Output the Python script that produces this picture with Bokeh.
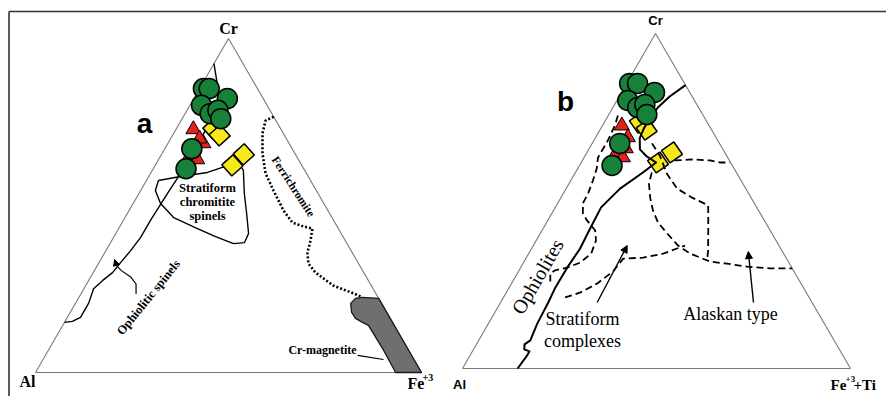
import numpy as np
from bokeh.plotting import figure
from bokeh.models import Range1d, Arrow, NormalHead
from bokeh.core.properties import value
from bokeh.embed import file_html
from bokeh.resources import INLINE

# ---------------- data: ternary %, Cr and Fe given, Al = 100 - Cr - Fe ----------------
# Panel a  (Cr - Al - Fe+3)
a_circle_cr = [85, 85, 82, 80, 77.5, 78.5, 76, 67, 61]
a_circle_fe = [1, 2.5, 8.7, 3, 6.5, 8, 10, 7, 8.5]
a_tri_cr = [72.8, 68.6, 63.8, 63.8, 70]
a_tri_fe = [4.5, 9.2, 7.5, 10, 7.5]
a_sq_cr = [73, 71, 62, 65.3]
a_sq_fe = [9.6, 12.2, 20, 21.3]

a_strat_cr = [57.5, 58.7, 59.9, 61.4, 62.9, 60.5, 53.6, 47.6, 41.6, 38.9, 38.6, 40.7, 43.1, 46.4, 50.6, 54.5, 57.5]
a_strat_fe = [3.1, 8.2, 14.6, 17.7, 21.1, 23.6, 27.3, 30.9, 34.4, 34.7, 32.0, 26.3, 20.4, 12.6, 7.1, 3.8, 3.1]
a_oph_cr = [15.0, 15.3, 16.5, 20.7, 25.1, 27.5, 29.9, 32.9, 36.5, 40.4, 45.5, 53.6, 59.6, 64.4, 69.5, 74.6, 79.3, 84.4, 89.5, 92.5]
a_oph_fe = [0, 1.9, 3.4, 3.4, 2.5, 3.6, 5.0, 5.6, 6.4, 7.0, 7.0, 7.4, 7.8, 8.0, 8.0, 7.5, 7.5, 5.2, 1.9, 0]
a_arrow_cr = [23.5, 26.5, 28.5, 30.5, 32.0, 33.8]
a_arrow_fe = [14.3, 12.8, 10.5, 7.0, 5.0, 3.6]
a_ferri_cr = [76.6, 75.4, 71.6, 65.6, 59.6, 54.5, 48.5, 44.9, 43.7, 43.1, 39.5, 35.9, 32.6, 29.9, 26.0, 23.7, 22.8]
a_ferri_fe = [23.4, 21.9, 23.0, 26.0, 29.8, 34.4, 40.0, 44.1, 47.6, 50.2, 51.5, 52.5, 54.4, 57.6, 64.2, 70.5, 72.8]
a_mag_cr = [20.7, 22.2, 22.5, 22.2, 0, 0, 6.6, 14.1, 15.0, 16.2, 18.0]
a_mag_fe = [71.3, 71.8, 73.5, 77.8, 100, 93.3, 86.9, 79.2, 77.2, 74.8, 72.9]
a_lead_cr = [5.1, 3.9]
a_lead_fe = [80.9, 88.2]

# Panel b  (Cr - Al - Fe+3+Ti)
b_circle_cr = [85.1, 85.1, 82.4, 80, 77.9, 78.8, 75.8, 67.2, 60.6]
b_circle_fe = [0.75, 2.8, 8.5, 2.8, 6.4, 7.8, 9.8, 7.1, 8.4]
b_tri_cr = [72.5, 69, 63.6, 63, 65.7]
b_tri_fe = [5, 8.3, 7.6, 10, 9.4]
b_sq_cr = [73.4, 71.3, 64.5, 61.5]
b_sq_fe = [9.2, 12, 21.9, 19.8]

b_oph_cr = [84.6, 81.2, 77.9, 74.6, 71.6, 68.7, 65.4, 63.3, 61.5, 58.5, 53.7, 48.1, 41.8, 35.8, 30.1, 24.2, 19.7, 13.4, 8.4, 7.2, 5.7, 5.1, 3.6, 0]
b_oph_fe = [15.4, 13.0, 11.6, 11.2, 11.1, 11.5, 13.2, 16.0, 19.3, 17.4, 13.9, 11.8, 12.1, 12.5, 12.0, 11.9, 12.3, 12.6, 13.3, 12.4, 13.1, 14.7, 14.7, 14.2]
b_strat1_cr = [75.5, 72.5, 68.1, 63.0, 59.7, 56.1, 52.2, 49.3, 46.3, 44.2, 41.2, 38.2, 34.3, 31.6, 30.1, 29.3, 28.4, 26.0]
b_strat1_fe = [2.5, 3.2, 3.6, 3.6, 4.9, 5.7, 6.4, 6.5, 8.0, 10.1, 13.7, 15.4, 16.1, 14.6, 12.0, 9.3, 8.5, 9.7]
b_strat2_cr = [21.2, 22.7, 25.4, 29.0, 32.8, 33.1, 34.3, 36.7]
b_strat2_fe = [15.9, 19.1, 22.1, 24.4, 25.1, 30.1, 34.7, 39.1]
b_alas1_cr = [58.5, 55.2, 51.0, 47.2, 43.6, 40.3, 36.7, 34.3, 33.1, 31.9, 31.3, 30.4, 29.9, 29.9]
b_alas1_fe = [19.7, 20.6, 23.0, 25.6, 28.7, 32.7, 37.3, 41.6, 44.8, 48.0, 52.6, 58.3, 64.4, 70.1]
b_alas2_cr = [67.2, 63.6, 58.2, 53.7, 51.0, 48.7, 42.1, 35.2, 32.2]
b_alas2_fe = [15.4, 19.2, 23.7, 28.6, 33.8, 39.1, 42.4, 45.8, 47.0]
b_alas3_cr = [62.1, 62.4, 62.1, 61.5, 61.5]
b_alas3_fe = [23.8, 28.1, 32.9, 35.7, 38.3]
b_arrow_strat_cr = [19.7, 36.7]
b_arrow_strat_fe = [24.9, 24.2]
b_arrow_alas_cr = [19.7, 34.9]
b_arrow_alas_fe = [65.2, 56.3]

# ---------------- layout: triangle corners in page pixels ----------------
TRI_A = {"Al": (35, 372), "Fe": (421, 372), "Cr": (228, 38)}
TRI_B = {"Al": (462, 368), "Fe": (850, 368), "Cr": (655, 33)}


def tern(tri, cr, fe):
    cr = np.asarray(cr, float) / 100.0
    fe = np.asarray(fe, float) / 100.0
    al = 1.0 - cr - fe
    x = al * tri["Al"][0] + fe * tri["Fe"][0] + cr * tri["Cr"][0]
    y = al * tri["Al"][1] + fe * tri["Fe"][1] + cr * tri["Cr"][1]
    return list(x), list(y)


p = figure(width=886, height=396, x_range=Range1d(0, 886), y_range=Range1d(396, 0),
           output_backend="svg", toolbar_location=None, min_border=0,
           x_axis_location=None, y_axis_location=None)
p.grid.visible = False
p.outline_line_color = None
p.background_fill_color = "white"

# frame
p.line([8.5, 886], [11, 11], line_color="#333333", line_width=1.6)
p.line([8.5, 8.5], [11, 396], line_color="#333333", line_width=1.6)

GREEN = "#17803a"
RED = "#e8201c"
YELLOW = "#f7e81c"
SERIF = value("Liberation Serif")
SANS = value("Liberation Sans")

for tri in (TRI_A, TRI_B):
    xs, ys = tern(tri, [0, 0, 100, 0], [0, 100, 0, 0])
    p.line(xs, ys, line_color="#7a7a7a", line_width=1.1)

# ----- panel a lines -----
x, y = tern(TRI_A, a_mag_cr, a_mag_fe)
p.patch(x, y, fill_color="#6f6f6f", line_color="#1a1a1a", line_width=1.3)
x, y = tern(TRI_A, a_strat_cr, a_strat_fe)
p.line(x, y, line_color="black", line_width=1.4, line_join="round")
x, y = tern(TRI_A, a_oph_cr, a_oph_fe)
p.line(x, y, line_color="black", line_width=1.4, line_join="round")
x, y = tern(TRI_A, a_arrow_cr, a_arrow_fe)
p.line(x, y, line_color="black", line_width=1.2, line_join="round")
p.add_layout(Arrow(end=NormalHead(size=6, fill_color="black", line_color="black"),
                   x_start=x[-2], y_start=y[-2], x_end=x[-1], y_end=y[-1], line_width=1.2))
x, y = tern(TRI_A, a_ferri_cr, a_ferri_fe)
p.line(x, y, line_color="black", line_width=2.6, line_dash="2 2")
x, y = tern(TRI_A, a_lead_cr, a_lead_fe)
p.line(x, y, line_color="black", line_width=1.2)

# ----- panel a symbols -----
x, y = tern(TRI_A, a_sq_cr, a_sq_fe)
p.scatter(x, y, marker="square", size=15, angle=42, angle_units="deg",
          fill_color=YELLOW, line_color="black", line_width=1.5)
x, y = tern(TRI_A, a_tri_cr, a_tri_fe)
p.scatter(x, y, marker="triangle", size=15, fill_color=RED, line_color="black", line_width=1)
x, y = tern(TRI_A, a_circle_cr, a_circle_fe)
p.scatter(x, y, marker="circle", size=20, fill_color=GREEN, line_color="black", line_width=1.5)

# ----- panel b symbols (lines drawn over squares) -----
x, y = tern(TRI_B, b_sq_cr, b_sq_fe)
p.scatter(x, y, marker="square", size=15, angle=35, angle_units="deg",
          fill_color=YELLOW, line_color="black", line_width=1.5)

x, y = tern(TRI_B, b_oph_cr, b_oph_fe)
p.line(x, y, line_color="black", line_width=2, line_join="round")
for cr_l, fe_l in ((b_strat1_cr, b_strat1_fe), (b_strat2_cr, b_strat2_fe),
                   (b_alas1_cr, b_alas1_fe), (b_alas2_cr, b_alas2_fe),
                   (b_alas3_cr, b_alas3_fe)):
    x, y = tern(TRI_B, cr_l, fe_l)
    p.line(x, y, line_color="black", line_width=1.8, line_dash="7 4")
for cr_l, fe_l in ((b_arrow_strat_cr, b_arrow_strat_fe), (b_arrow_alas_cr, b_arrow_alas_fe)):
    x, y = tern(TRI_B, cr_l, fe_l)
    p.add_layout(Arrow(end=NormalHead(size=7, fill_color="black", line_color="black"),
                       x_start=x[0], y_start=y[0], x_end=x[1], y_end=y[1], line_width=1.4))

x, y = tern(TRI_B, b_tri_cr, b_tri_fe)
p.scatter(x, y, marker="triangle", size=15, fill_color=RED, line_color="black", line_width=1)
x, y = tern(TRI_B, b_circle_cr, b_circle_fe)
p.scatter(x, y, marker="circle", size=20, fill_color=GREEN, line_color="black", line_width=1.5)

# ----- texts -----
def txt(xs, ys, texts, font, size, style="normal", align="center", angle=0):
    p.text(x=xs, y=ys, text=texts, text_font=font, text_font_size=size,
           text_font_style=style, text_align=align, text_baseline="middle",
           angle=angle, angle_units="deg", text_color="black")

# panel a
txt([228], [28], ["Cr"], SERIF, "16px", "bold")
txt([27], [381], ["Al"], SERIF, "16px", "bold")
txt([407], [383], ["Fe"], SERIF, "16px", "bold", "left")
txt([422], [377], ["+3"], SERIF, "10px", "bold", "left")
txt([144], [123], ["a"], SANS, "28px", "bold")
txt([207, 207, 207], [187, 201, 215], ["Stratiform", "chromitite", "spinels"], SERIF, "12.5px", "bold")
txt([148], [297], ["Ophiolitic spinels"], SERIF, "12.5px", "bold", angle=51)
txt([293], [186], ["Ferrichromite"], SERIF, "11.5px", "bold", angle=-57)
txt([322], [349], ["Cr-magnetite"], SERIF, "12px", "bold")

# panel b
txt([655], [20], ["Cr"], SANS, "13px", "bold")
txt([459], [384], ["Al"], SANS, "13px", "bold")
txt([830], [384], ["Fe"], SERIF, "15px", "bold", "left")
txt([845], [378], ["+3"], SERIF, "9px", "bold", "left")
txt([853], [384], ["+Ti"], SERIF, "15px", "bold", "left")
txt([565], [101], ["b"], SANS, "28px", "bold")
txt([537], [276], ["Ophiolites"], SERIF, "20px", angle=60)
txt([582, 582], [318, 340], ["Stratiform", "complexes"], SERIF, "18px")
txt([730], [313], ["Alaskan type"], SERIF, "18px")

open("out.html", "w").write(file_html(p, INLINE))
